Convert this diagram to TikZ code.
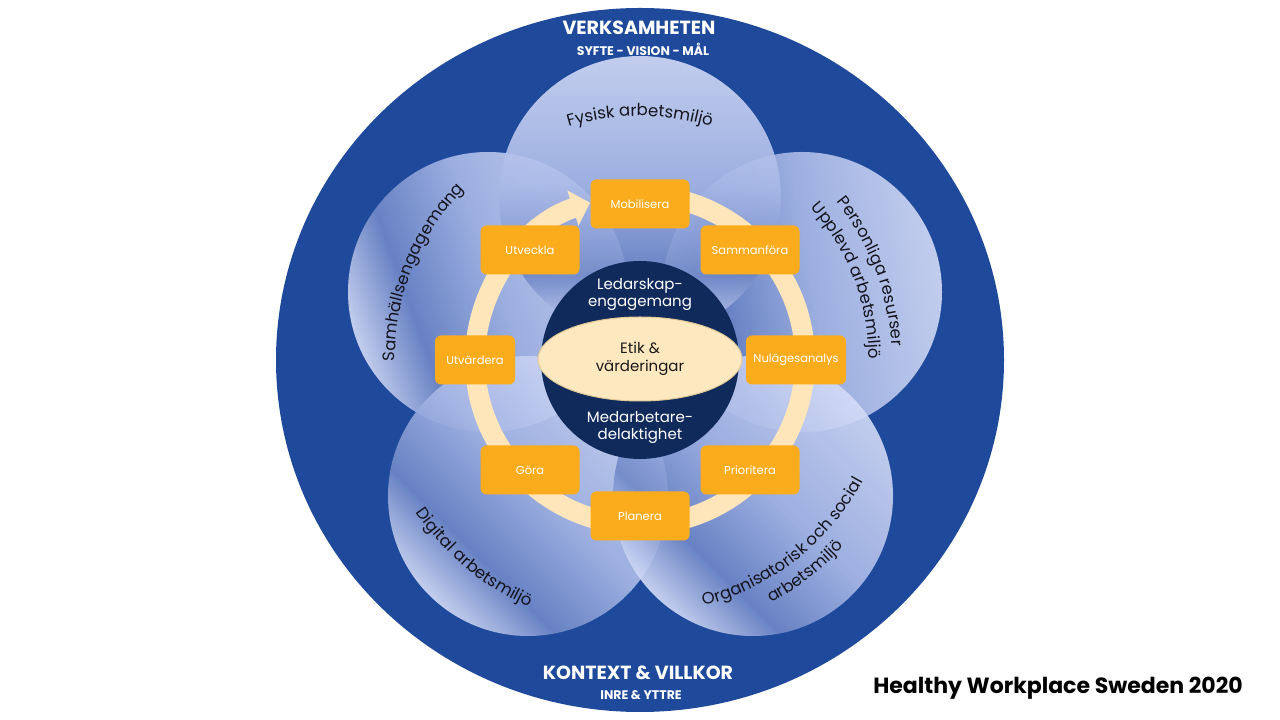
\documentclass[tikz,border=0pt]{standalone}
\usepackage{fontspec}
\setmainfont{Poppins}
\usetikzlibrary{arrows.meta,decorations.text,shapes.geometric}
\definecolor{outerblue}{RGB}{31,74,155}
\definecolor{petallight}{RGB}{212,220,247}
\definecolor{petaldark}{RGB}{112,136,200}
\definecolor{petalmid}{RGB}{170,186,232}
\definecolor{navy}{RGB}{16,42,92}
\definecolor{ethcream}{RGB}{253,232,192}
\definecolor{ethedge}{RGB}{225,200,150}
\definecolor{ringcream}{RGB}{255,229,186}
\definecolor{boxorange}{RGB}{251,172,28}
\definecolor{petaltext}{RGB}{20,20,30}
\pgfdeclarehorizontalshading{petalshade}{100bp}{color(0bp)=(petallight); color(25bp)=(petallight); color(36bp)=(petaldark); color(52bp)=(petalmid); color(75bp)=(petallight); color(100bp)=(petallight)}
\newcommand{\petalfont}{\fontsize{16.5}{16.5}\selectfont}
\begin{document}
\begin{tikzpicture}[x=1pt,y=1pt,
  petal/.style={shading=petalshade, opacity=0.9},
  stepbox/.style={rectangle, rounded corners=6pt, fill=boxorange, minimum height=49pt, minimum width=99pt, text=white, font=\fontsize{11.5}{13}\selectfont, inner sep=0pt},
  coretext/.style={align=center, text=white, font=\fontsize{15}{17}\selectfont},
  titletext/.style={text=white, font=\bfseries\fontsize{19}{21}\selectfont},
  subtext/.style={text=white, font=\bfseries\fontsize{12.5}{14}\selectfont},
  arctext/.style={decorate, decoration={text along path, text align=center, text color=petaltext}}
]
\useasboundingbox (0,0) rectangle (1280,720);
\fill[white] (0,0) rectangle (1280,720);
\coordinate (C) at (640,360);
\fill[outerblue] (C) ellipse [x radius=364, y radius=352];

% petals
\coordinate (pS) at (488,428);
\coordinate (pP) at (802,428);
\coordinate (pD) at (528,224);
\coordinate (pO) at (753,224);
\coordinate (pF) at (640,523);
\shade[petal, shading angle=20] (pS) circle[radius=140];
\shade[petal, shading angle=10] (pP) circle[radius=140];
\shade[petal, shading angle=45] (pD) circle[radius=140];
\shade[petal, shading angle=45] (pO) circle[radius=140];
\shade[petal, shading angle=90] (pF) circle[radius=141];

% petal texts
\path[arctext, decoration={text={|\petalfont|Fysisk arbetsmiljö}}] (C) ++(140:244) arc[start angle=140, end angle=40, radius=244];
\path[arctext, decoration={text={|\petalfont|Samhällsengagemang}}] (C) ++(208:245) arc[start angle=208, end angle=108, radius=245];
\path[arctext, decoration={text={|\petalfont|Personliga resurser}}] (C) ++(71:252) arc[start angle=71, end angle=-29, radius=252];
\path[arctext, decoration={text={|\petalfont|Upplevd arbetsmiljö}}] (C) ++(71:229) arc[start angle=71, end angle=-29, radius=229];
\path[arctext, decoration={text={|\petalfont|Digital arbetsmiljö}}] (C) ++(180:271) arc[start angle=180, end angle=280, radius=271];
\path[arctext, decoration={text={|\petalfont|Organisatorisk och social}}] (C) ++(-102:254) arc[start angle=-102, end angle=-2, radius=254];
\path[arctext, decoration={text={|\petalfont|arbetsmiljö}}] (C) ++(-102:276) arc[start angle=-102, end angle=-2, radius=276];

% ring arrow
\draw[ringcream, line width=20pt, -{Triangle[width=36pt,length=18pt]}] (C) ++(80:165) arc[start angle=80, end angle=-252.4, radius=165];

% steps
\node[stepbox] (mob) at (640,516) {Mobilisera};
\node[stepbox] (utv) at (530,470) {Utveckla};
\node[stepbox] (sam) at (750,470) {Sammanföra};
\node[stepbox, minimum width=80pt] (utd) at (475,360) {Utvärdera};
\node[stepbox, minimum width=100pt] (nul) at (796,360) {Nulägesanalys};
\node[stepbox] (gor) at (530,250) {Göra};
\node[stepbox] (pri) at (750,250) {Prioritera};
\node[stepbox] (pla) at (640,204) {Planera};

% core
\node[circle, fill=navy, minimum size=198pt, inner sep=0pt] (core) at (C) {};
\node[ellipse, fill=ethcream, draw=ethedge, line width=1pt, minimum width=204pt, minimum height=84pt, inner sep=0pt, align=center, text=black!90, font=\fontsize{15}{18}\selectfont] (eth) at (640,361) {Etik \&\\värderingar};
\node[coretext] (lead) at (640,426) {Ledarskap-\\engagemang};
\node[coretext] (emp) at (640,293) {Medarbetare-\\delaktighet};

% titles
\node[titletext] (verk) at (639,692) {VERKSAMHETEN};
\node[subtext] (syfte) at (643,671) {SYFTE - VISION - MÅL};
\node[titletext] (kont) at (638,47) {KONTEXT \& VILLKOR};
\node[subtext] (inre) at (641,25) {INRE \& YTTRE};
\node[font=\bfseries\fontsize{22}{24}\selectfont, text=black] (hws) at (1058,32) {Healthy Workplace Sweden 2020};
\end{tikzpicture}
\end{document}
